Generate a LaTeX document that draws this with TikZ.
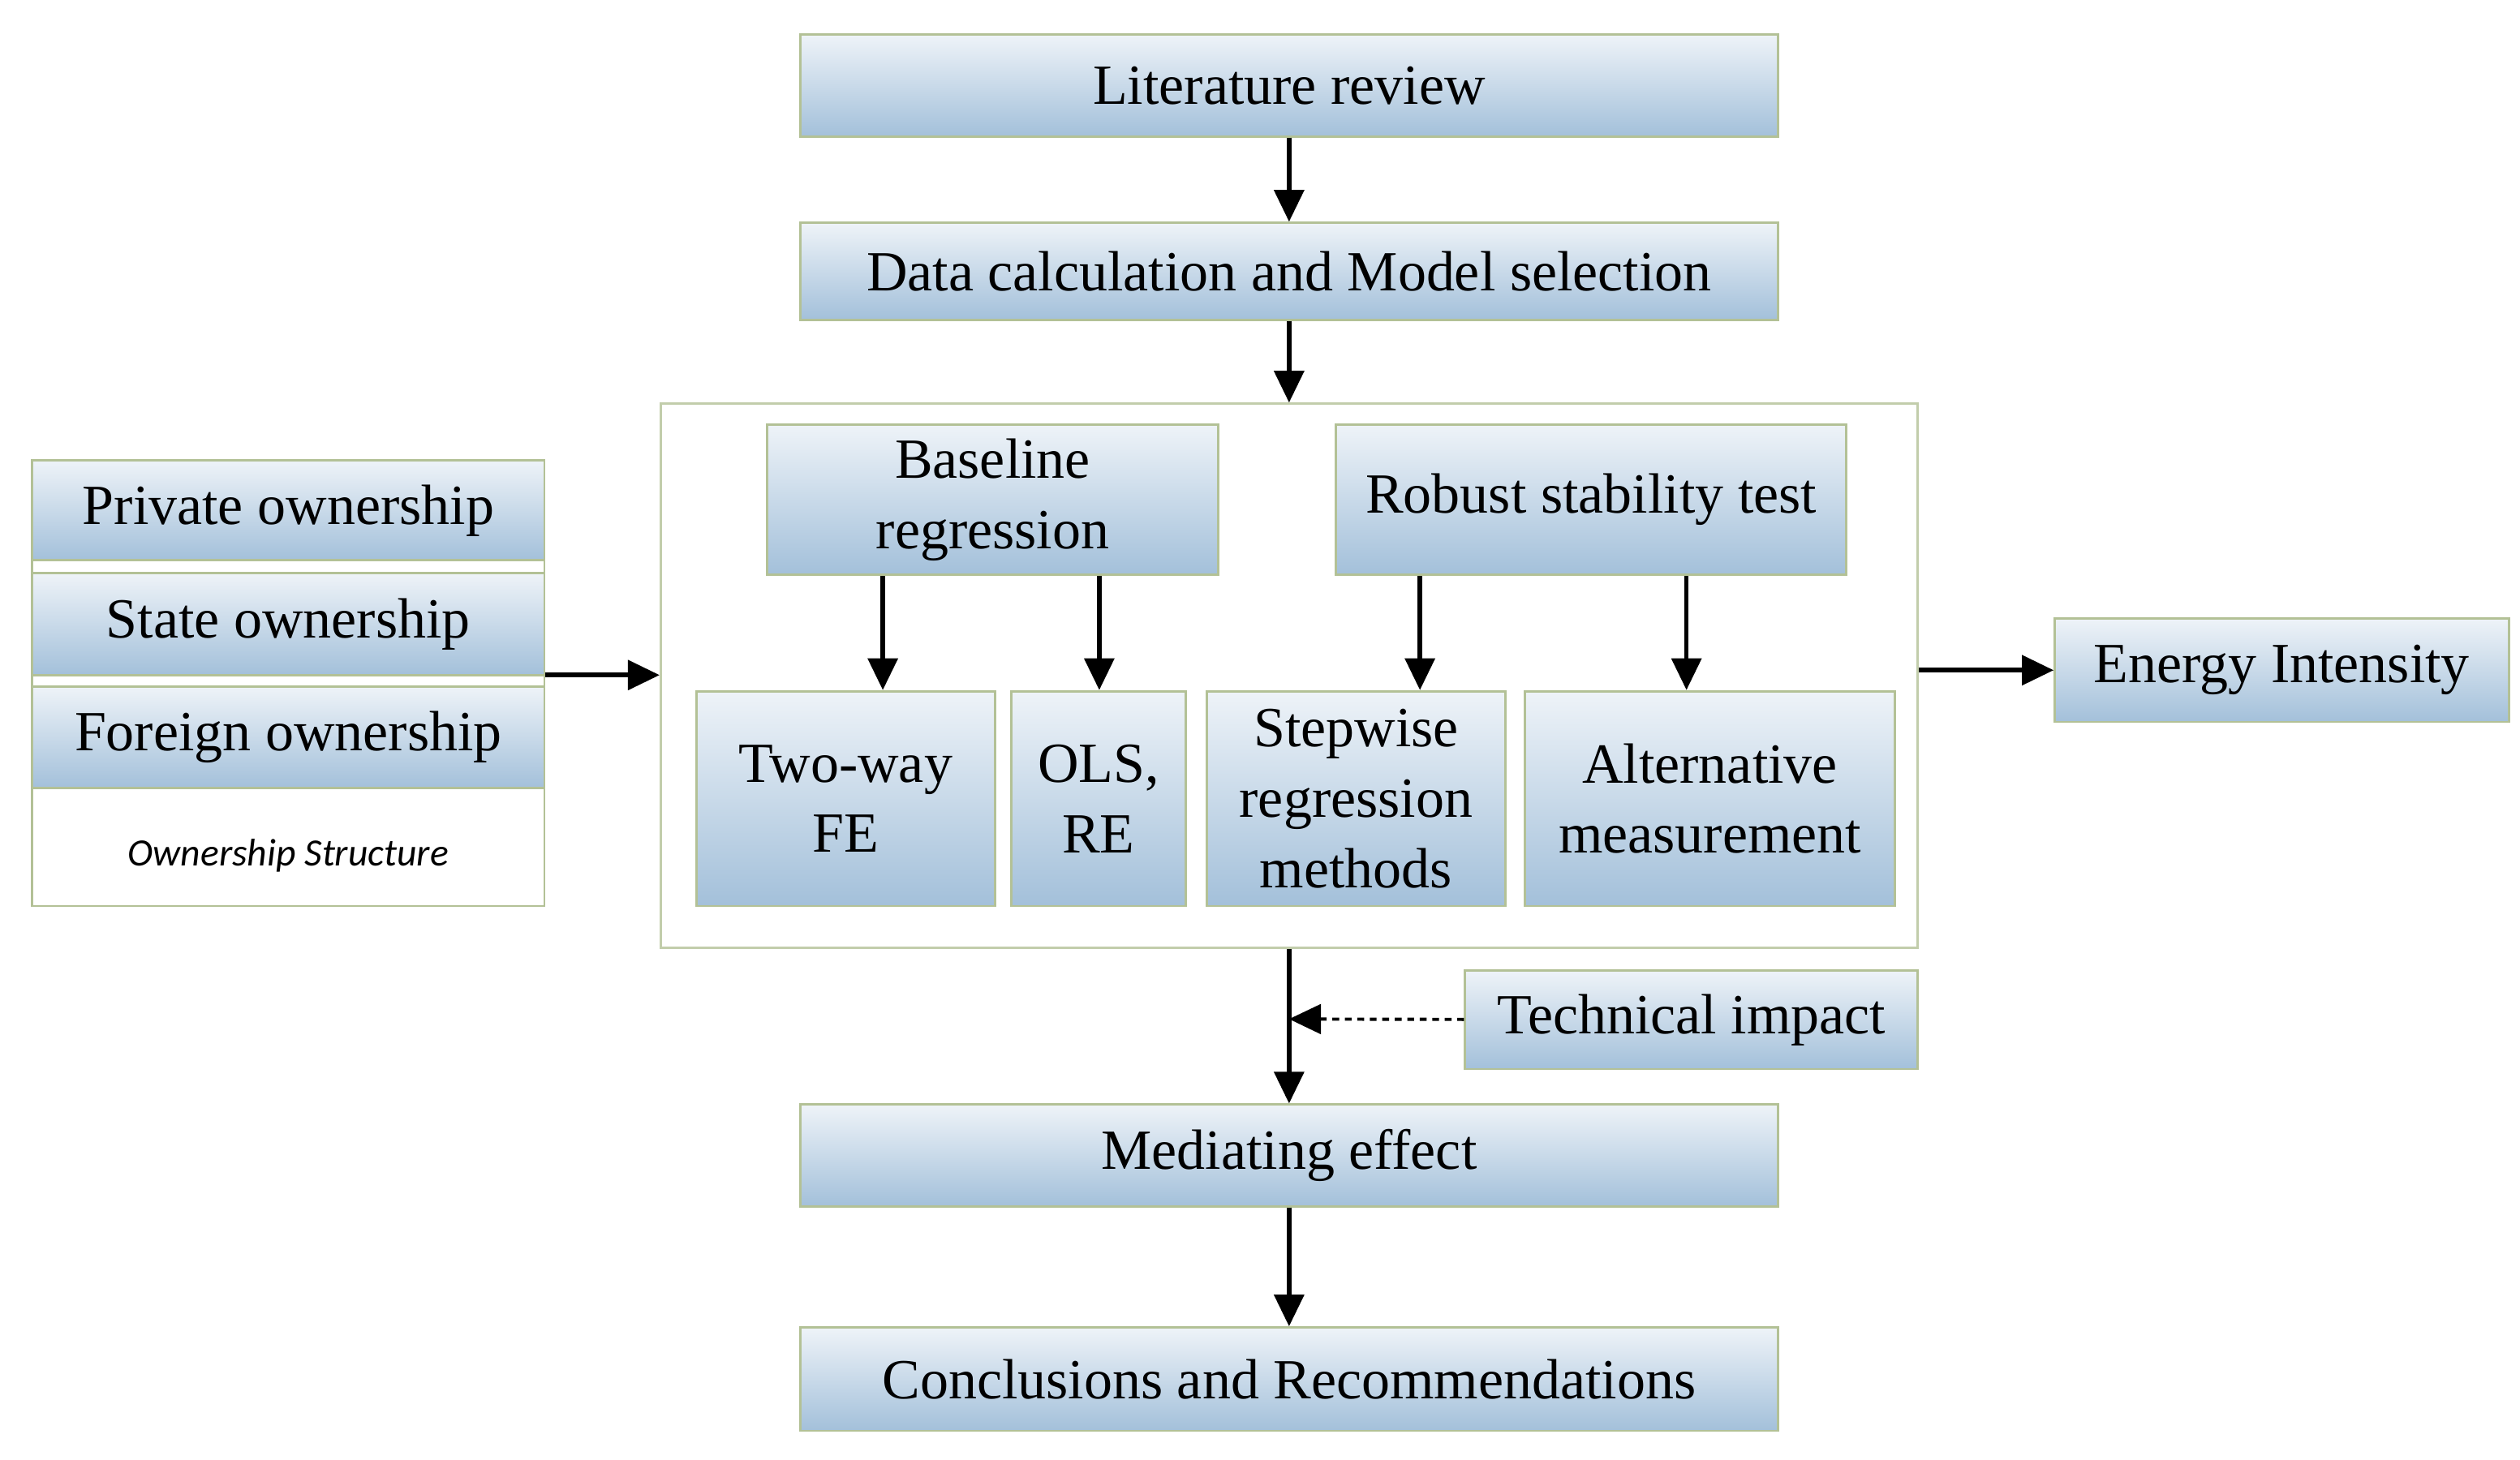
\documentclass[tikz,border=0pt]{standalone}
\usepackage{fontspec}
\setmainfont{Liberation Serif}
\newfontfamily\labelfont{Carlito}
\usetikzlibrary{arrows.meta}
\definecolor{boxtop}{HTML}{EEF3F8}
\definecolor{boxbot}{HTML}{A3C0DA}
\definecolor{boxline}{HTML}{B3C196}
\tikzset{
  blue box/.style={draw=boxline, line width=2pt, top color=boxtop, bottom color=boxbot,
    inner sep=0pt, align=center, font=\fontsize{50}{62}\selectfont},
  flow/.style={-{Triangle[length=28pt,width=26pt]}, line width=4pt}
}
\begin{document}
\begin{tikzpicture}[x=0.05cm,y=-0.05cm]
\useasboundingbox (0,0) rectangle (1560,904);
% frames
\node[draw=boxline!80, line width=2pt, minimum width=778*0.05cm, minimum height=337*0.05cm] (frame) at (798,418.5) {};
\node[draw=boxline, line width=2pt, fill=white, minimum width=317*0.05cm, minimum height=276*0.05cm] (owner) at (178.5,423) {};
% top chain
\node[blue box, minimum width=605*0.05cm, minimum height=63*0.05cm] (lit) at (798,53) {Literature review};
\node[blue box, minimum width=605*0.05cm, minimum height=60*0.05cm] (data) at (798,168) {Data calculation and Model selection};
% inside frame
\node[blue box, minimum width=279*0.05cm, minimum height=93*0.05cm] (base) at (614.5,309.5) {Baseline\\regression};
\node[blue box, minimum width=316*0.05cm, minimum height=93*0.05cm] (robust) at (985,309.5) {Robust stability test};
\node[blue box, minimum width=185*0.05cm, minimum height=133*0.05cm] (fe) at (523.5,494.5) {Two-way\\FE};
\node[blue box, minimum width=108*0.05cm, minimum height=133*0.05cm] (ols) at (680,494.5) {OLS,\\RE};
\node[blue box, minimum width=185*0.05cm, minimum height=133*0.05cm] (step) at (839.5,494.5) {Stepwise\\regression\\methods};
\node[blue box, minimum width=229*0.05cm, minimum height=133*0.05cm] (alt) at (1058.5,494.5) {Alternative\\measurement};
% ownership panel
\node[blue box, minimum width=317*0.05cm, minimum height=62*0.05cm] (priv) at (178.5,316) {Private ownership};
\node[blue box, minimum width=317*0.05cm, minimum height=63*0.05cm] (state) at (178.5,386.5) {State ownership};
\node[blue box, minimum width=317*0.05cm, minimum height=63*0.05cm] (foreign) at (178.5,456.5) {Foreign ownership};
\node[font=\labelfont\itshape\fontsize{34}{40}\selectfont] (ostr) at (178.5,530) {Ownership Structure};
% right and bottom
\node[blue box, minimum width=281*0.05cm, minimum height=64*0.05cm] (energy) at (1412.5,415) {Energy Intensity};
\node[blue box, minimum width=280*0.05cm, minimum height=61*0.05cm] (tech) at (1047,631.5) {Technical impact};
\node[blue box, minimum width=605*0.05cm, minimum height=63*0.05cm] (med) at (798,715.5) {Mediating effect};
\node[blue box, minimum width=605*0.05cm, minimum height=64*0.05cm] (concl) at (798,854) {Conclusions and Recommendations};
\coordinate (meet) at (798,631);
% arrows
\draw[flow] (lit) -- (data);
\draw[flow] (data) -- (frame);
\draw[flow] ([xshift=-68*0.05cm]base.south) -- ([xshift=-68*0.05cm]base.south |- fe.north);
\draw[flow] ([xshift=66*0.05cm]base.south) -- ([xshift=66*0.05cm]base.south |- ols.north);
\draw[flow] ([xshift=-106*0.05cm]robust.south) -- ([xshift=-106*0.05cm]robust.south |- step.north);
\draw[flow] ([xshift=59*0.05cm]robust.south) -- ([xshift=59*0.05cm]robust.south |- alt.north);
\draw[flow] (owner.east |- 0,418) -- (frame.west |- 0,418);
\draw[flow] (frame.east |- energy) -- (energy);
\draw[flow] (frame) -- (med);
\draw[flow, dash pattern=on 6pt off 5pt, line width=2.8pt] (tech) -- (meet);
\draw[flow] (med) -- (concl);
\end{tikzpicture}
\end{document}
